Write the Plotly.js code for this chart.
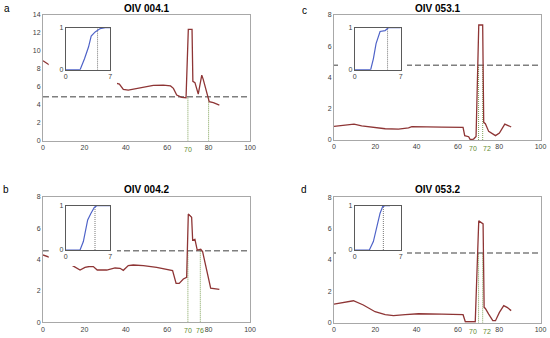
<!DOCTYPE html>
<html><head><meta charset="utf-8">
<script src="https://cdn.plot.ly/plotly-3.0.1.min.js"></script>
<style>html,body{margin:0;padding:0;background:#fff}#chart{width:550px;height:338px}</style>
</head><body><div id="chart"></div>
<script>
// ---------- data ----------
const panelLetters = ['a', 'b', 'c', 'd'];
const panelTitles = ['OIV 004.1', 'OIV 004.2', 'OIV 053.1', 'OIV 053.2'];
const xTickVals = [0, 20, 40, 60, 80, 100];
const yMaxes = [14, 8, 8, 8];
const thresholds = [4.9, 4.56, 4.78, 4.45];
const crossings = [[70, 80], [70, 76], [70, 72], [70, 72]];
const greenLabels = [['70'], ['70', '76'], ['70', '72'], ['70', '72']];
const greenLabelPos = [[70], [70, 76], [70, 72], [70, 72]];

const seriesA_x = [0, 3.1, 36.9, 38.8, 41.2, 46.9, 53.3, 58.1, 61.6, 63.0, 64.6, 67.0, 69.1, 70.2, 72.0, 72.4, 73.4, 75.0, 76.7, 77.4, 79.9, 80.3, 82.3, 85.2];
const seriesA_y = [8.9, 8.43, 6.31, 5.72, 5.64, 5.9, 6.16, 6.2, 6.1, 5.83, 5.09, 4.83, 4.79, 12.4, 12.4, 6.6, 6.47, 5.2, 7.3, 6.83, 4.83, 4.35, 4.23, 3.97];

const seriesB_x = [0, 3.1, 14.3, 17.9, 20.3, 23.0, 24.3, 26.2, 30.8, 34.8, 37.2, 38.8, 41.2, 43.6, 48.5, 54.9, 59.7, 62.6, 64.3, 65.8, 67.8, 69.4, 70.2, 71.8, 72.3, 73.4, 74.5, 76.2, 77.1, 79.4, 81.0, 85.2];
const seriesB_y = [4.29, 4.14, 3.61, 3.33, 3.5, 3.57, 3.55, 3.33, 3.33, 3.46, 3.44, 3.31, 3.61, 3.65, 3.61, 3.5, 3.4, 3.3, 2.48, 2.48, 2.76, 2.87, 6.9, 6.69, 5.24, 5.29, 4.6, 4.65, 4.5, 3.01, 2.17, 2.1];

const seriesC_x = [0, 9.7, 13.4, 18.3, 24.8, 31.2, 36.1, 37.7, 42.6, 52.3, 62.5, 63.3, 65.2, 66.0, 67.6, 68.8, 70.1, 72.0, 72.5, 73.3, 74.9, 78.2, 80.1, 82.7, 84.6, 85.8];
const seriesC_y = [0.87, 1.02, 0.91, 0.81, 0.72, 0.70, 0.77, 0.85, 0.83, 0.83, 0.81, 0.28, 0.21, 0.02, 0.06, 0.23, 7.36, 7.36, 1.13, 1.04, 0.55, 0.28, 0.45, 1.02, 0.91, 0.83];

const seriesD_x = [0, 9.4, 14.2, 19.9, 24.8, 28.8, 34.5, 40.9, 52.3, 62.5, 63.6, 68.4, 70.1, 71.4, 72.2, 72.7, 73.3, 74.9, 76.9, 78.2, 80.1, 82.2, 83.8, 85.8];
const seriesD_y = [1.19, 1.40, 1.13, 0.70, 0.51, 0.45, 0.51, 0.57, 0.55, 0.51, 0.06, 0.06, 6.51, 6.4, 6.3, 0.98, 0.91, 0.55, 0.13, 0.13, 0.66, 1.09, 0.98, 0.77];

const insetA_x = [0, 2.26, 2.95, 3.58, 4.0, 4.63, 5.42, 6.2, 7];
const insetA_y = [0, 0, 0.26, 0.54, 0.8, 0.9, 0.98, 1, 1];
const insetB_x = [0, 2.25, 2.77, 3.45, 3.97, 4.49, 4.86, 7];
const insetB_y = [0, 0, 0.19, 0.68, 0.83, 0.96, 1, 1];
const insetC_x = [0, 2.43, 2.84, 3.25, 3.86, 4.62, 5.12, 7];
const insetC_y = [0, 0, 0.26, 0.62, 0.91, 0.93, 1, 1];
const insetD_x = [0, 2.23, 2.84, 3.35, 3.86, 4.26, 4.62, 5.38];
const insetD_y = [0, 0, 0.19, 0.49, 0.83, 0.98, 1, 1];
const insetMarks = [5.0, 4.6, 5.0, 4.36];
const insetXTicks = [0, 7];
const insetYTicks = [0, 1];

const mainX = [seriesA_x, seriesB_x, seriesC_x, seriesD_x];
const mainY = [seriesA_y, seriesB_y, seriesC_y, seriesD_y];
const insX = [insetA_x, insetB_x, insetC_x, insetD_x];
const insY = [insetA_y, insetB_y, insetC_y, insetD_y];

// ---------- layout geometry (pixels) ----------
const W = 550, H = 338;
const mainBox = [[43, 250, 15, 140.7], [43, 250, 196.7, 322.3], [334, 540.5, 15, 140], [334, 540.5, 197.3, 322.7]];
const coverBox = [[48.7, 117, 21, 85.7], [48.7, 117, 200, 266], [338, 407, 21, 82], [336, 407, 200, 265]];
const insetBox = [[65.7, 110.3, 27.7, 69.7], [65.7, 110.3, 205.7, 250], [354.7, 400.7, 27.7, 69.7], [354.7, 400.7, 205.7, 250]];
const letterPos = [[7, 8], [6, 189.5], [304, 10], [304, 189.5]];
const titleY = [8.5, 189, 8.5, 189];

const fx = px => px / W;
const fy = py => 1 - py / H;
const dom = b => ({x: [fx(b[0]), fx(b[1])], y: [fy(b[3]), fy(b[2])]});

const FONT = 'Liberation Sans, Arial, sans-serif';
const curveColor = '#8e3535';
const blue = '#4f63c8';
const green = '#5f8a2f';

const traces = [];
const layout = {
  width: W, height: H,
  margin: {l: 0, r: 0, t: 0, b: 0},
  paper_bgcolor: '#fff', plot_bgcolor: '#fff',
  showlegend: false,
  font: {family: FONT, size: 7, color: '#404040'},
  annotations: []
};

function axName(n) { return n === 1 ? '' : String(n); }

for (let i = 0; i < 4; i++) {
  const m = i + 1, c = i + 5, s = i + 9;
  const xm = 'x' + axName(m), ym = 'y' + axName(m);
  const xc = 'x' + c, yc = 'y' + c;
  const xs = 'x' + s, ys = 'y' + s;
  const dm = dom(mainBox[i]), dc = dom(coverBox[i]), ds = dom(insetBox[i]);
  const t = thresholds[i];

  // main axes
  layout['xaxis' + axName(m)] = {domain: dm.x, anchor: ym, range: [0, 100], tickvals: xTickVals,
    showgrid: false, zeroline: false, showline: true, mirror: true, linecolor: '#a8a8a8', linewidth: 1,
    ticks: '', tickfont: {size: 7, color: '#404040'}, fixedrange: true};
  layout['yaxis' + axName(m)] = {domain: dm.y, anchor: xm, range: [0, yMaxes[i]], dtick: 2, tick0: 0,
    showgrid: false, zeroline: false, showline: true, mirror: true, linecolor: '#a8a8a8', linewidth: 1,
    ticks: '', tickfont: {size: 7, color: '#404040'}, fixedrange: true};

  // threshold line
  traces.push({x: [0, 100], y: [t, t], xaxis: xm, yaxis: ym, mode: 'lines',
    line: {color: '#7f7f7f', width: 1.5, dash: '6px,3px'}, hoverinfo: 'skip'});
  // crossing verticals
  const vx = [], vy = [];
  crossings[i].forEach(v => { vx.push(v, v, null); vy.push(0, t, null); });
  traces.push({x: vx, y: vy, xaxis: xm, yaxis: ym, mode: 'lines',
    line: {color: green, width: 0.8, dash: '1px,1px'}, hoverinfo: 'skip'});
  // curve
  traces.push({x: mainX[i], y: mainY[i], xaxis: xm, yaxis: ym, mode: 'lines',
    line: {color: curveColor, width: 1.3}, hoverinfo: 'skip'});

  // cover (white box behind inset)
  layout['xaxis' + c] = {domain: dc.x, anchor: yc, visible: false, range: [0, 1], fixedrange: true};
  layout['yaxis' + c] = {domain: dc.y, anchor: xc, visible: false, range: [0, 1], fixedrange: true};
  traces.push({x: [], y: [], xaxis: xc, yaxis: yc, mode: 'lines', hoverinfo: 'skip'});

  // inset axes
  layout['xaxis' + s] = {domain: ds.x, anchor: ys, range: [0, 7], tickvals: insetXTicks,
    showgrid: false, zeroline: false, showline: true, mirror: true, linecolor: '#5a5a5a', linewidth: 1,
    ticks: '', tickfont: {size: 7, color: '#404040'}, fixedrange: true};
  layout['yaxis' + s] = {domain: ds.y, anchor: xs, range: [0, 1], tickvals: insetYTicks,
    showgrid: false, zeroline: false, showline: true, mirror: true, linecolor: '#5a5a5a', linewidth: 1,
    ticks: '', tickfont: {size: 7, color: '#404040'}, fixedrange: true};
  traces.push({x: [insetMarks[i], insetMarks[i]], y: [0, 1], xaxis: xs, yaxis: ys, mode: 'lines',
    line: {color: '#555', width: 0.8, dash: '1px,1px'}, hoverinfo: 'skip'});
  traces.push({x: insX[i], y: insY[i], xaxis: xs, yaxis: ys, mode: 'lines',
    line: {color: blue, width: 1.2}, hoverinfo: 'skip'});

  // title
  layout.annotations.push({text: '<b>' + panelTitles[i] + '</b>', xref: xm + ' domain', yref: 'paper',
    x: 0.5, y: fy(titleY[i]), xanchor: 'center', yanchor: 'middle', showarrow: false,
    font: {size: 10, color: '#000', family: FONT}});
  // panel letter
  layout.annotations.push({text: panelLetters[i], xref: 'paper', yref: 'paper',
    x: fx(letterPos[i][0]), y: fy(letterPos[i][1]), xanchor: 'center', yanchor: 'middle', showarrow: false,
    font: {size: 10, color: '#000', family: FONT}});
  // green labels
  const gl = greenLabels[i], gp = greenLabelPos[i];
  gl.forEach((lab, k) => {
    let xa = 'center';
    if (gl.length === 2 && gp[1] - gp[0] < 4) xa = k === 0 ? 'right' : 'left';
    layout.annotations.push({text: lab, xref: xm, yref: ym + ' domain',
      x: xa === 'center' ? gp[k] : (k === 0 ? gp[k] + 0.4 : gp[k] - 1.0), y: 0,
      xanchor: xa, yanchor: 'top', yshift: -3, showarrow: false,
      font: {size: 7, color: green, family: FONT}});
  });
}

Plotly.newPlot('chart', traces, layout, {staticPlot: true, displayModeBar: false});
</script>
</body></html>
